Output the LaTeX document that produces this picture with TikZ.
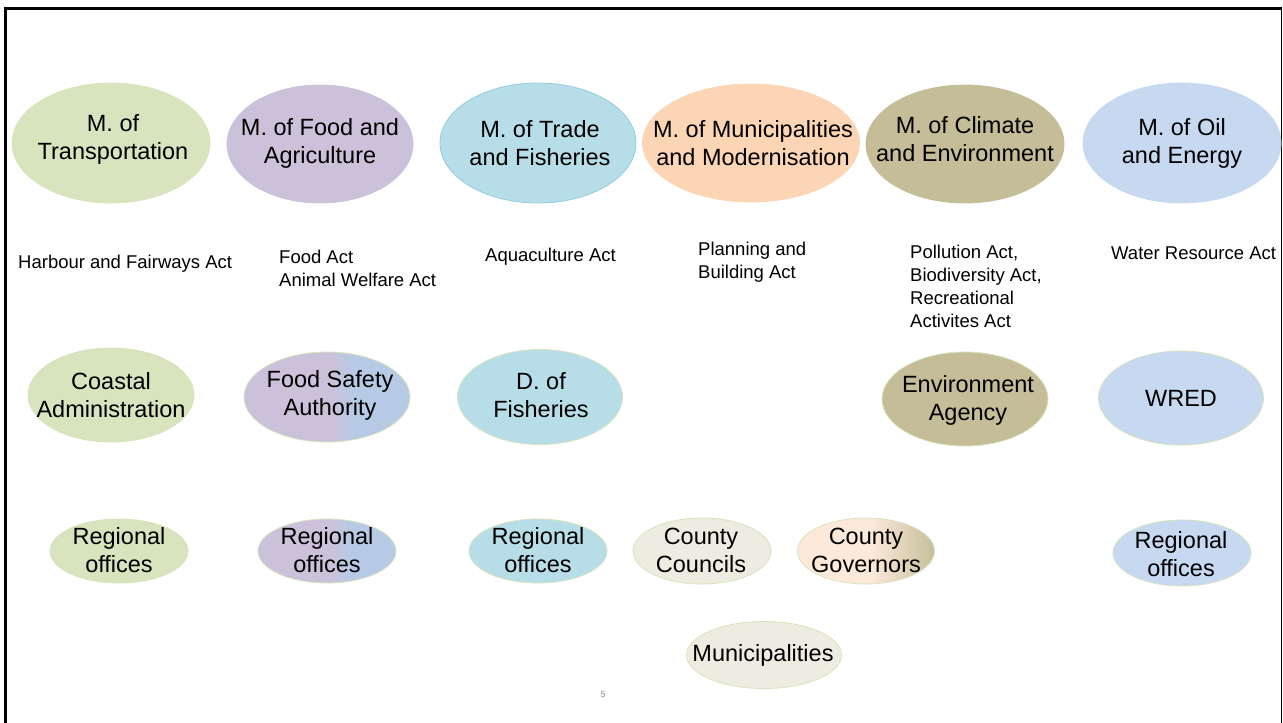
\documentclass[tikz,border=0pt]{standalone}
\usepackage{fontspec}
\setmainfont{Liberation Sans}
\usetikzlibrary{shapes.geometric}
\definecolor{cGreen}{HTML}{D7E4BD}
\definecolor{cPurple}{HTML}{CCC1DA}
\definecolor{cTeal}{HTML}{B7DEE8}
\definecolor{cTealEdge}{HTML}{93CDDD}
\definecolor{cOrange}{HTML}{FCD5B5}
\definecolor{cTan}{HTML}{C4BD97}
\definecolor{cBlue}{HTML}{C6D9F1}
\definecolor{cBlueB}{HTML}{B7CAE5}
\definecolor{cBeige}{HTML}{EEECE1}
\definecolor{cPeach}{HTML}{FCE9DA}
\definecolor{cEdge}{HTML}{D6E3BC}
\definecolor{cPage}{HTML}{8C8C8C}
\pgfdeclarehorizontalshading{pbshade}{100bp}{color(0bp)=(cPurple); color(51bp)=(cPurple); color(58bp)=(cBlueB); color(100bp)=(cBlueB)}
\pgfdeclarehorizontalshading{govshade}{100bp}{color(0bp)=(cPeach); color(52bp)=(cPeach); color(76bp)=(cTan); color(100bp)=(cTan)}
\begin{document}
\begin{tikzpicture}[x=1pt,y=-1pt,
  ell/.style={ellipse, inner sep=0pt, line width=0.8pt},
  big/.style={font=\fontsize{23.5}{28}\selectfont, align=center, inner sep=0pt},
  small/.style={font=\fontsize{18.5}{23}\selectfont, align=left, inner sep=0pt, anchor=west}]
\useasboundingbox (0,0) rectangle (1283,723);
\fill[white] (0,0) rectangle (1283,723);
% frame
\draw[line width=2.7pt] (5.3,723) -- (5.3,8.7) -- (1281.5,8.7);
\draw[line width=1.2pt] (1281.5,8.7) -- (1281.5,723);

% row 1 : ministries
\node[ell, fill=cGreen, draw=cGreen, minimum width=198pt, minimum height=120pt] (transE) at (111,143) {};
\node[big] (transT) at (113,139) {M. of\\Transportation};
\node[ell, fill=cPurple, draw=cPurple, minimum width=186pt, minimum height=118pt] (foodE) at (320,144) {};
\node[big] (foodT) at (320,143) {M. of Food and\\Agriculture};
\node[ell, fill=cTeal, draw=cTealEdge, minimum width=196pt, minimum height=120pt] (tradeE) at (538,143) {};
\node[big] (tradeT) at (540,143) {M. of Trade\\and Fisheries};
\node[ell, fill=cOrange, draw=cOrange, minimum width=217pt, minimum height=118pt] (muniE) at (751,143) {};
\node[big] (muniT) at (753,143) {M. of Municipalities\\and Modernisation};
\node[ell, fill=cTan, draw=cTan, minimum width=198pt, minimum height=118pt] (climE) at (965,144) {};
\node[big] (climT) at (965,139) {M. of Climate\\and Environment};
\node[ell, fill=cBlue, draw=cBlue, minimum width=198pt, minimum height=120pt] (oilE) at (1182,143) {};
\node[big] (oilT) at (1182,143) {M. of Oil\\and Energy};

% acts
\node[small] (actTrans) at (18,263.5) {Harbour and Fairways Act};
\node[small] (actFood) at (279,268.5) {Food Act\\Animal Welfare Act};
\node[small] (actTrade) at (485,256.5) {Aquaculture Act};
\node[small] (actMuni) at (698,262) {Planning and\\Building Act};
\node[small] (actClim) at (910,286.5) {Pollution Act,\\Biodiversity Act,\\Recreational\\Activites Act};
\node[small] (actOil) at (1111,253.5) {Water Resource Act};

% row 2 : agencies
\node[ell, fill=cGreen, draw=cEdge, minimum width=166pt, minimum height=94pt] (coastE) at (111,395) {};
\node[big] (coastT) at (111,395.5) {Coastal\\Administration};
\node[ell, shading=pbshade, draw=cEdge, minimum width=166pt, minimum height=90pt] (fsaE) at (327,397) {};
\node[big] (fsaT) at (330,395.5) {Food Safety\\Authority};
\node[ell, fill=cTeal, draw=cEdge, minimum width=165pt, minimum height=95pt] (fishE) at (540,397) {};
\node[big] (fishT) at (541,395.5) {D. of\\Fisheries};
\node[ell, fill=cTan, draw=cEdge, minimum width=166pt, minimum height=94pt] (envE) at (965,399) {};
\node[big] (envT) at (968,400.5) {Environment\\Agency};
\node[ell, fill=cBlue, draw=cEdge, minimum width=165pt, minimum height=94pt] (wredE) at (1181,398) {};
\node[big] (wredT) at (1181,398) {WRED};

% row 3 : regional level
\node[ell, fill=cGreen, draw=cEdge, minimum width=138pt, minimum height=64pt] (reg1E) at (119,551) {};
\node[big] (reg1T) at (119,550.5) {Regional\\offices};
\node[ell, shading=pbshade, draw=cEdge, minimum width=138pt, minimum height=64pt] (reg2E) at (327,551) {};
\node[big] (reg2T) at (327,550.5) {Regional\\offices};
\node[ell, fill=cTeal, draw=cEdge, minimum width=138pt, minimum height=64pt] (reg3E) at (538,551) {};
\node[big] (reg3T) at (538,550.5) {Regional\\offices};
\node[ell, fill=cBeige, draw=cEdge, minimum width=138pt, minimum height=66pt] (ccE) at (702,551) {};
\node[big] (ccT) at (701,550.5) {County\\Councils};
\node[ell, shading=govshade, draw=cEdge, minimum width=137pt, minimum height=66pt] (cgE) at (866,551) {};
\node[big] (cgT) at (866,550.5) {County\\Governors};
\node[ell, fill=cBlue, draw=cEdge, minimum width=138pt, minimum height=66pt] (reg6E) at (1182,553) {};
\node[big] (reg6T) at (1181,554.5) {Regional\\offices};
\node[ell, fill=cBeige, draw=cEdge, minimum width=155pt, minimum height=67pt] (munE) at (764,655) {};
\node[big] (munT) at (763,655) {Municipalities};

% page number
\node[font=\fontsize{9}{10}\selectfont, text=cPage, inner sep=0pt] (pg) at (603,694) {5};
\end{tikzpicture}
\end{document}
